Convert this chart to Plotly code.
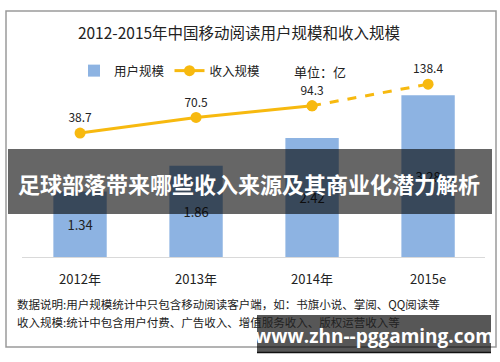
import plotly.graph_objects as go

categories = ["2012年", "2013年", "2014年", "2015e"]
users = [1.34, 1.86, 2.42, 3.28]
revenue = [38.7, 70.5, 94.3, 138.4]

W, H = 500, 362
B = 104          # bottom margin: baseline at y=258 px
PH = H - B       # plot height

def py(px):      # px from top -> paper y
    return (PH - px) / PH

def pxx(px):
    return px / W

FONT = "Noto Sans CJK SC, Noto Sans, sans-serif"
GOLD = "#F7B90F"
BLUE = "#8DB3E2"

fig = go.Figure()

fig.add_trace(go.Bar(
    x=categories, y=users, name="用户规模",
    marker=dict(color=BLUE, line=dict(width=0)),
    width=0.46,
    text=[f"{v:.2f}" for v in users], textposition="inside",
    insidetextanchor="middle",
    textfont=dict(size=13, color="#222222", family=FONT),
    yaxis="y",
))

# solid part of revenue line (actual) and dashed part (estimate)
fig.add_trace(go.Scatter(
    x=categories[:3], y=revenue[:3], name="收入规模",
    mode="lines+markers+text",
    line=dict(color=GOLD, width=3),
    marker=dict(size=11, color=GOLD),
    text=[f"{v}" for v in revenue[:3]], textposition="top center",
    textfont=dict(size=12, color="#222222", family=FONT),
    yaxis="y2",
))
fig.add_trace(go.Scatter(
    x=categories[2:], y=revenue[2:], name="收入规模",
    mode="lines+markers+text",
    line=dict(color=GOLD, width=3, dash="dash"),
    marker=dict(size=11, color=GOLD),
    text=["", f"{revenue[3]}"], textposition="top center",
    textfont=dict(size=12, color="#222222", family=FONT),
    yaxis="y2", showlegend=False,
))

shapes = [
    # outer frame
    dict(type="rect", xref="paper", yref="paper",
         x0=pxx(6), x1=pxx(496), y0=py(347), y1=py(11),
         line=dict(color="#9a9a9a", width=1.5), layer="below"),
    # baseline
    dict(type="line", xref="paper", yref="paper",
         x0=pxx(22), x1=pxx(485), y0=py(257.5), y1=py(257.5),
         line=dict(color="#d9d9d9", width=1)),
    # middle overlay banner
    dict(type="rect", xref="paper", yref="paper",
         x0=pxx(8), x1=pxx(492), y0=py(214), y1=py(149),
         fillcolor="rgba(0,0,0,0.6)", line=dict(width=0), layer="above"),
    # bottom-right overlay banner
    dict(type="rect", xref="paper", yref="paper",
         x0=pxx(257), x1=pxx(491), y0=py(352), y1=py(315),
         fillcolor="rgba(0,0,0,0.66)", line=dict(width=0), layer="above"),
    dict(type="line", xref="paper", yref="paper",
         x0=pxx(257), x1=pxx(491), y0=py(352.5), y1=py(352.5),
         line=dict(color="#111111", width=1.5), layer="above"),
]

annotations = [
    dict(text="单位：亿", xref="paper", yref="paper", x=pxx(292), y=py(71),
         xanchor="left", yanchor="middle", showarrow=False,
         font=dict(size=13, color="#222222", family=FONT)),
    dict(text="数据说明:用户规模统计中只包含移动阅读客户端，如：书旗小说、掌阅、QQ阅读等",
         xref="paper", yref="paper", x=pxx(15), y=py(304),
         xanchor="left", yanchor="middle", showarrow=False,
         font=dict(size=11.5, color="#222222", family=FONT)),
    dict(text="收入规模:统计中包含用户付费、广告收入、增值服务收入、版权运营收入等",
         xref="paper", yref="paper", x=pxx(15), y=py(322),
         xanchor="left", yanchor="middle", showarrow=False,
         font=dict(size=11.5, color="#222222", family=FONT)),
    dict(text="<b>足球部落带来哪些收入来源及其商业化潜力解析</b>",
         xref="paper", yref="paper", x=pxx(249), y=py(183),
         xanchor="center", yanchor="middle", showarrow=False,
         font=dict(size=22, color="#ffffff", family=FONT)),
    dict(text="<b>www.zhn--pggaming.com</b>",
         xref="paper", yref="paper", x=pxx(374), y=py(336),
         xanchor="center", yanchor="middle", showarrow=False,
         font=dict(size=19, color="#ffffff", family="Open Sans, DejaVu Sans, sans-serif")),
]

fig.update_layout(
    width=W, height=H,
    margin=dict(l=0, r=0, t=0, b=B),
    paper_bgcolor="white", plot_bgcolor="white",
    font=dict(family=FONT, color="#222222"),
    title=dict(text="2012-2015年中国移动阅读用户规模和收入规模",
               x=0.478, xanchor="center", y=1 - 34 / H, yanchor="middle",
               font=dict(size=15.5, color="#222222", family=FONT)),
    showlegend=True,
    legend=dict(orientation="h", x=pxx(74), y=py(71), xanchor="left",
                yanchor="middle", bgcolor="rgba(0,0,0,0)",
                font=dict(size=12.5, color="#222222", family=FONT),
                itemwidth=30, tracegroupgap=0),
    xaxis=dict(range=[-0.69, 3.62], showgrid=False, zeroline=False,
               showline=False, ticks="outside", ticklen=9,
               tickcolor="rgba(0,0,0,0)",
               tickfont=dict(size=13, color="#222222", family=FONT)),
    yaxis=dict(range=[0, PH / 49.6], visible=False, showgrid=False),
    yaxis2=dict(range=[-106 / 0.49, 152 / 0.49], overlaying="y",
                visible=False, showgrid=False),
    bargap=0.5,
    hovermode=False,
    shapes=shapes,
    annotations=annotations,
)

fig.write_html("out.html", config={"displayModeBar": False},
               post_script="document.body.style.margin='0';")
